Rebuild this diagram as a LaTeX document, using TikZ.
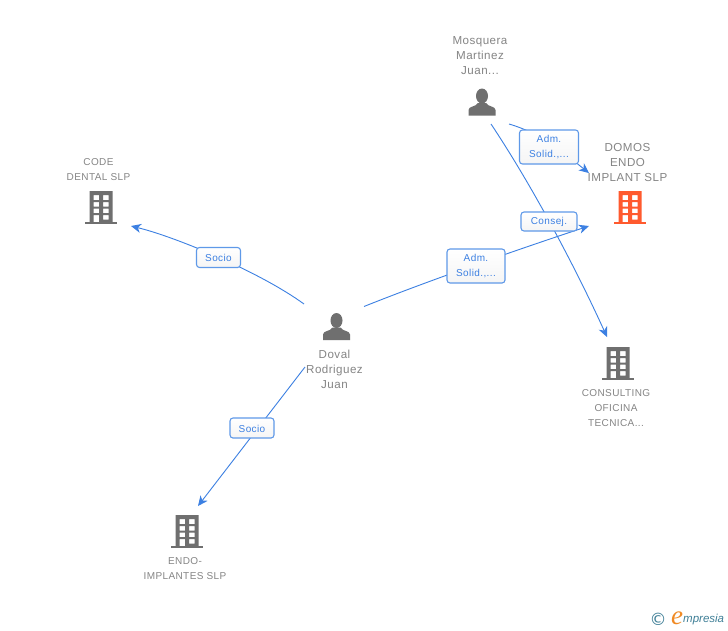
\documentclass[tikz,border=0pt]{standalone}
\usepackage{fontspec}
\usetikzlibrary{calc,arrows.meta,backgrounds}
\setmainfont{Liberation Sans}
\newfontfamily\spacedfont[LetterSpace=4]{Liberation Sans}
\newfontfamily\logofont{Liberation Serif}
\newfontfamily\symfont{DejaVu Sans}
\definecolor{edgeblue}{HTML}{3C80E2}
\definecolor{boxblue}{HTML}{5F99E8}
\definecolor{txtgray}{HTML}{858585}
\definecolor{icongray}{HTML}{6F6F6F}
\definecolor{hotorange}{HTML}{FF5A2E}
\definecolor{logoteal}{HTML}{3F7F97}
\definecolor{logoorange}{HTML}{F08A24}
\tikzset{
  iconbox/.style={inner sep=0pt,minimum width=32pt,minimum height=32pt},
  name text/.style={text=txtgray,align=center,inner sep=0pt},
  big name/.style={name text,font={\spacedfont\fontsize{11.6}{15}\selectfont}},
  small name/.style={name text,font={\spacedfont\fontsize{10}{15}\selectfont}},
  linkbox/.style={draw=boxblue,line width=1.1pt,rounded corners=3pt,
    top color=white,bottom color=white!96!black,text=edgeblue,align=center,inner sep=0pt,
    execute at begin node={\rule{0pt}{8.8pt}},
    font={\spacedfont\fontsize{10}{15}\selectfont}},
  link/.style={draw=edgeblue,line width=0.9pt,-{Stealth[length=10pt,width=9pt,inset=3pt]}},
  pics/bldg/.style={code={
    \fill[#1,even odd rule]
      (-11.5,-17) rectangle (11.5,14.5)
      (-7.5,-13) rectangle (-2,-8) (2,-13) rectangle (7.5,-8)
      (-7.5,-6) rectangle (-2,-1.5) (2,-6) rectangle (7.5,-1.5)
      (-7.5,0.5) rectangle (-2,5) (2,0.5) rectangle (7.5,5)
      (-7.5,7) rectangle (-2,14.5) (2,7) rectangle (7.5,11.5);
    \fill[#1] (-16,14) rectangle (16,16);
  }},
  pics/person/.style={code={
    \fill[#1] (0,-6) ellipse (6 and 7.5);
    \fill[#1] (-13.5,13.5) -- (-13.5,8) .. controls (-13.5,4) and (-6,5) .. (-4,1)
      -- (4,1) .. controls (6,5) and (13.5,4) .. (13.5,8) -- (13.5,13.5) -- cycle;
  }}
}
\begin{document}
\begin{tikzpicture}[x=1pt,y=-1pt]
\useasboundingbox (0,0) rectangle (728,630);
% icons
\node[iconbox] (mosquera) at (482,102) {};
\pic at (mosquera) {person=icongray};
\node[iconbox] (doval) at (336.5,326.5) {};
\pic at (doval) {person=icongray};
\node[iconbox] (code) at (101,208) {};
\pic at (code) {bldg=icongray};
\node[iconbox] (domos) at (630,208) {};
\pic at (domos) {bldg=hotorange};
\node[iconbox] (consulting) at (618,364) {};
\pic at (consulting) {bldg=icongray};
\node[iconbox] (endo) at (187,532) {};
\pic at (endo) {bldg=icongray};
% names
\node[big name] (mosqueraT) at (480,55.5) {Mosquera\\Martinez\\Juan...};
\node[big name] (dovalT) at (334.5,369.5) {Doval\\Rodriguez\\Juan};
\node[big name] (domosT) at (627.5,162.5) {DOMOS\\ENDO\\IMPLANT SLP};
\node[small name] (codeT) at (98.5,170) {CODE\\DENTAL SLP};
\node[small name] (consultingT) at (616,408.5) {CONSULTING\\OFICINA\\TECNICA...};
\node[small name] (endoT) at (185,569) {ENDO-\\IMPLANTES SLP};
% link labels
\node[linkbox,minimum width=59pt,minimum height=34pt] (l1) at (549,147) {Adm.\\Solid.,...};
\node[linkbox,minimum width=58pt,minimum height=34pt] (l2) at (476,266) {Adm.\\Solid.,...};
\node[linkbox,minimum width=56pt,minimum height=19pt] (l3) at (549,221.5) {Consej.};
\node[linkbox,minimum width=44pt,minimum height=20pt] (l4) at (218.5,257.5) {Socio};
\node[linkbox,minimum width=44pt,minimum height=20pt] (l5) at (252,428) {Socio};
% ports
\coordinate (mosA) at ($(mosquera)+(9,22)$);
\coordinate (mosB) at ($(mosquera)+(27,22)$);
\coordinate (dovA) at ($(doval)+(-32.5,-22.5)$);
\coordinate (dovB) at ($(doval)+(27.5,-20)$);
\coordinate (dovC) at ($(doval)+(-31.5,40.5)$);
\coordinate (codeP) at ($(code)+(30,18)$);
\coordinate (domA) at ($(domos)+(-41,-35)$);
\coordinate (domB) at ($(domos)+(-41,18)$);
\coordinate (conP) at ($(consulting)+(-11,-27)$);
\coordinate (endoP) at ($(endo)+(11,-26)$);
% connectors
\begin{scope}[on background layer]
\fill[white] (0,0) rectangle (728,630);
\draw[link] (dovA) .. controls (260,272) and (176,237) .. (codeP);
\draw[link] (dovB) .. controls (420,284) and (510,252) .. (domB);
\draw[link] (dovC) -- (endoP);
\draw[link] (mosA) .. controls (535,190) and (579,275) .. (conP);
\draw[link] (mosB) .. controls (540,133) and (560,150) .. (domA);
\end{scope}
% logo
\node[inner sep=0pt,text=logoteal,font={\symfont\fontsize{17}{17}\selectfont}] (logoC) at (658,619) {©};
\node[inner sep=0pt,text=logoorange,font={\logofont\itshape\fontsize{27}{27}\selectfont}] (logoE) at (677,618) {e};
\node[inner sep=0pt,anchor=west,text=logoteal,font={\itshape\fontsize{11.5}{11.5}\selectfont}] (logoT) at (683,620) {mpresia};
\end{tikzpicture}
\end{document}
